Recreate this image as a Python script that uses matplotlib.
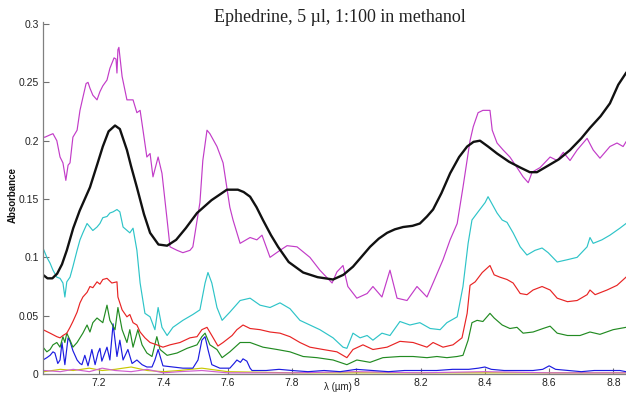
import numpy as np
import matplotlib
matplotlib.use('Agg')
import matplotlib.pyplot as plt

# spectra (wavelength in um, absorbance)
mag_x = [7.026, 7.032, 7.048, 7.057, 7.069, 7.079, 7.088, 7.097, 7.104, 7.110, 7.119, 7.132, 7.141, 7.150, 7.160,
         7.166, 7.172, 7.181, 7.194, 7.203, 7.212, 7.225, 7.234, 7.247, 7.253, 7.256, 7.259, 7.262, 7.272, 7.287,
         7.306, 7.318, 7.328, 7.337, 7.349, 7.359, 7.368, 7.384, 7.396, 7.412, 7.421, 7.443, 7.461, 7.483, 7.492,
         7.514, 7.523, 7.536, 7.545, 7.567, 7.586, 7.607, 7.617, 7.639, 7.670, 7.691, 7.707, 7.732, 7.763, 7.785,
         7.816, 7.856, 7.887, 7.925, 7.940, 7.959, 7.974, 8.002, 8.034, 8.052, 8.080, 8.105, 8.127, 8.158, 8.189,
         8.220, 8.239, 8.270, 8.292, 8.314, 8.332, 8.354, 8.364, 8.379, 8.394, 8.416, 8.423, 8.438, 8.457, 8.478,
         8.500, 8.519, 8.535, 8.547, 8.572, 8.603, 8.625, 8.644, 8.665, 8.687, 8.718, 8.737, 8.758, 8.789, 8.811,
         8.830, 8.839]
mag_y = [0.203, 0.203, 0.205, 0.206, 0.200, 0.186, 0.181, 0.166, 0.179, 0.181, 0.203, 0.209, 0.226, 0.237, 0.249,
         0.250, 0.245, 0.239, 0.235, 0.242, 0.247, 0.252, 0.262, 0.271, 0.270, 0.258, 0.278, 0.280, 0.255, 0.235,
         0.235, 0.224, 0.226, 0.209, 0.186, 0.189, 0.169, 0.186, 0.172, 0.132, 0.109, 0.106, 0.104, 0.106, 0.109,
         0.147, 0.183, 0.209, 0.206, 0.195, 0.181, 0.143, 0.132, 0.112, 0.117, 0.115, 0.119, 0.100, 0.106, 0.110,
         0.109, 0.100, 0.089, 0.078, 0.0875, 0.093, 0.075, 0.065, 0.069, 0.075, 0.066, 0.089, 0.065, 0.063, 0.075,
         0.066, 0.078, 0.098, 0.115, 0.129, 0.160, 0.200, 0.212, 0.224, 0.226, 0.226, 0.209, 0.198, 0.192, 0.186,
         0.177, 0.169, 0.164, 0.173, 0.177, 0.186, 0.183, 0.190, 0.183, 0.192, 0.202, 0.192, 0.185, 0.195, 0.198,
         0.195, 0.199]

blk_x = [7.026, 7.040, 7.055, 7.070, 7.085, 7.100, 7.120, 7.140, 7.172, 7.195, 7.212, 7.230, 7.250, 7.265, 7.287,
         7.300, 7.318, 7.340, 7.359, 7.385, 7.412, 7.440, 7.470, 7.505, 7.550, 7.598, 7.632, 7.650, 7.670, 7.690,
         7.710, 7.735, 7.757, 7.790, 7.835, 7.880, 7.928, 7.960, 7.990, 8.015, 8.043, 8.070, 8.096, 8.120, 8.146,
         8.175, 8.198, 8.220, 8.239, 8.265, 8.292, 8.320, 8.345, 8.365, 8.385, 8.410, 8.438, 8.475, 8.510, 8.540,
         8.562, 8.593, 8.630, 8.665, 8.700, 8.727, 8.760, 8.789, 8.815, 8.839]
blk_y = [0.085, 0.082, 0.082, 0.086, 0.094, 0.106, 0.125, 0.140, 0.160, 0.180, 0.195, 0.208, 0.213, 0.210, 0.192,
         0.178, 0.160, 0.137, 0.121, 0.111, 0.110, 0.115, 0.125, 0.138, 0.149, 0.158, 0.158, 0.156, 0.152, 0.143,
         0.132, 0.119, 0.109, 0.096, 0.087, 0.083, 0.081, 0.085, 0.092, 0.100, 0.109, 0.116, 0.121, 0.124, 0.126,
         0.127, 0.129, 0.135, 0.141, 0.155, 0.172, 0.186, 0.195, 0.199, 0.200, 0.195, 0.189, 0.182, 0.177, 0.173,
         0.173, 0.178, 0.184, 0.192, 0.202, 0.211, 0.221, 0.232, 0.248, 0.258]

cyan_x = [7.026, 7.038, 7.048, 7.057, 7.069, 7.079, 7.088, 7.094, 7.100, 7.110, 7.119, 7.132, 7.141, 7.150, 7.163,
          7.172, 7.181, 7.194, 7.203, 7.212, 7.225, 7.234, 7.244, 7.256, 7.265, 7.275, 7.296, 7.306, 7.318, 7.328,
          7.343, 7.359, 7.374, 7.384, 7.396, 7.412, 7.430, 7.461, 7.492, 7.514, 7.530, 7.539, 7.551, 7.567, 7.583,
          7.607, 7.639, 7.670, 7.701, 7.732, 7.763, 7.794, 7.825, 7.856, 7.887, 7.928, 7.959, 7.971, 7.990, 8.012,
          8.034, 8.052, 8.080, 8.105, 8.136, 8.167, 8.198, 8.230, 8.261, 8.282, 8.314, 8.332, 8.348, 8.360, 8.379,
          8.401, 8.410, 8.420, 8.438, 8.454, 8.469, 8.488, 8.510, 8.531, 8.556, 8.578, 8.597, 8.625, 8.657, 8.687,
          8.718, 8.727, 8.737, 8.764, 8.789, 8.820, 8.839]
cyan_y = [0.108, 0.100, 0.095, 0.089, 0.083, 0.082, 0.078, 0.066, 0.079, 0.083, 0.092, 0.106, 0.115, 0.121, 0.129,
          0.126, 0.123, 0.126, 0.129, 0.134, 0.135, 0.138, 0.139, 0.141, 0.139, 0.126, 0.121, 0.125, 0.106, 0.078,
          0.052, 0.049, 0.038, 0.057, 0.040, 0.033, 0.040, 0.046, 0.051, 0.055, 0.078, 0.087, 0.078, 0.057, 0.046,
          0.053, 0.063, 0.065, 0.059, 0.057, 0.061, 0.056, 0.046, 0.042, 0.038, 0.031, 0.023, 0.022, 0.035, 0.031,
          0.033, 0.029, 0.035, 0.033, 0.045, 0.042, 0.044, 0.039, 0.038, 0.044, 0.049, 0.075, 0.112, 0.132, 0.139,
          0.147, 0.152, 0.147, 0.138, 0.132, 0.130, 0.121, 0.109, 0.102, 0.106, 0.108, 0.104, 0.096, 0.098, 0.100,
          0.109, 0.117, 0.112, 0.115, 0.119, 0.125, 0.129]

red_x = [7.026, 7.048, 7.069, 7.079, 7.088, 7.100, 7.110, 7.119, 7.132, 7.141, 7.150, 7.163, 7.172, 7.181, 7.194,
         7.203, 7.212, 7.225, 7.240, 7.256, 7.259, 7.272, 7.287, 7.296, 7.306, 7.318, 7.328, 7.343, 7.359, 7.380,
         7.399, 7.421, 7.452, 7.483, 7.505, 7.520, 7.536, 7.551, 7.570, 7.586, 7.614, 7.629, 7.648, 7.670, 7.701,
         7.732, 7.763, 7.794, 7.825, 7.856, 7.897, 7.940, 7.971, 7.990, 8.021, 8.052, 8.096, 8.136, 8.177, 8.220,
         8.239, 8.270, 8.301, 8.329, 8.345, 8.354, 8.370, 8.392, 8.416, 8.429, 8.447, 8.469, 8.488, 8.510, 8.531,
         8.550, 8.578, 8.603, 8.625, 8.657, 8.687, 8.718, 8.727, 8.743, 8.780, 8.811, 8.839]
red_y = [0.038, 0.035, 0.032, 0.031, 0.033, 0.035, 0.040, 0.045, 0.053, 0.061, 0.066, 0.070, 0.075, 0.074, 0.079,
         0.077, 0.081, 0.082, 0.078, 0.079, 0.066, 0.055, 0.049, 0.051, 0.044, 0.042, 0.036, 0.031, 0.027, 0.025,
         0.023, 0.025, 0.027, 0.031, 0.032, 0.038, 0.040, 0.033, 0.024, 0.027, 0.033, 0.038, 0.042, 0.039, 0.038,
         0.036, 0.035, 0.032, 0.027, 0.023, 0.021, 0.019, 0.014, 0.021, 0.025, 0.021, 0.023, 0.028, 0.027, 0.023,
         0.027, 0.023, 0.025, 0.031, 0.052, 0.076, 0.079, 0.087, 0.093, 0.085, 0.083, 0.081, 0.078, 0.069, 0.068,
         0.072, 0.075, 0.072, 0.065, 0.062, 0.063, 0.068, 0.072, 0.068, 0.072, 0.076, 0.083]

grn_x = [7.026, 7.038, 7.048, 7.057, 7.069, 7.079, 7.088, 7.094, 7.100, 7.110, 7.119, 7.132, 7.141, 7.150, 7.163,
         7.172, 7.181, 7.194, 7.203, 7.212, 7.225, 7.234, 7.250, 7.259, 7.272, 7.287, 7.296, 7.306, 7.321, 7.334,
         7.349, 7.365, 7.380, 7.390, 7.412, 7.443, 7.474, 7.505, 7.520, 7.530, 7.545, 7.567, 7.583, 7.607, 7.639,
         7.670, 7.710, 7.754, 7.794, 7.835, 7.878, 7.928, 7.971, 8.002, 8.043, 8.083, 8.136, 8.177, 8.220, 8.251,
         8.282, 8.314, 8.332, 8.348, 8.360, 8.376, 8.394, 8.416, 8.429, 8.454, 8.478, 8.500, 8.519, 8.550, 8.581,
         8.603, 8.625, 8.657, 8.696, 8.727, 8.758, 8.799, 8.839]
grn_y = [0.023, 0.019, 0.021, 0.025, 0.027, 0.023, 0.032, 0.027, 0.035, 0.029, 0.023, 0.027, 0.031, 0.035, 0.042,
         0.036, 0.044, 0.048, 0.046, 0.044, 0.059, 0.046, 0.038, 0.057, 0.038, 0.027, 0.038, 0.023, 0.038, 0.025,
         0.018, 0.015, 0.032, 0.021, 0.016, 0.018, 0.022, 0.025, 0.032, 0.035, 0.025, 0.021, 0.014, 0.019, 0.027,
         0.027, 0.023, 0.021, 0.019, 0.015, 0.014, 0.012, 0.008, 0.012, 0.010, 0.014, 0.015, 0.015, 0.014, 0.015,
         0.014, 0.015, 0.016, 0.029, 0.044, 0.046, 0.045, 0.052, 0.048, 0.042, 0.039, 0.040, 0.035, 0.036, 0.039,
         0.041, 0.035, 0.033, 0.033, 0.036, 0.034, 0.038, 0.040]

blu_x = [7.026, 7.038, 7.048, 7.057, 7.063, 7.072, 7.079, 7.085, 7.094, 7.104, 7.110, 7.119, 7.132, 7.141, 7.147,
         7.156, 7.166, 7.178, 7.188, 7.197, 7.203, 7.209, 7.225, 7.234, 7.244, 7.256, 7.265, 7.275, 7.290, 7.303,
         7.318, 7.334, 7.349, 7.365, 7.374, 7.384, 7.399, 7.430, 7.461, 7.492, 7.508, 7.520, 7.530, 7.539, 7.551,
         7.576, 7.607, 7.620, 7.629, 7.640, 7.648, 7.660, 7.670, 7.676, 7.720, 7.760, 7.800, 7.850, 7.900, 7.950,
         8.000, 8.050, 8.100, 8.150, 8.200, 8.250, 8.300, 8.350, 8.380, 8.400, 8.420, 8.460, 8.500, 8.550, 8.580,
         8.600, 8.620, 8.660, 8.700, 8.740, 8.780, 8.820, 8.839]
blu_y = [0.012, 0.014, 0.016, 0.019, 0.018, 0.009, 0.012, 0.027, 0.008, 0.031, 0.028, 0.020, 0.012, 0.009, 0.008,
         0.016, 0.007, 0.021, 0.008, 0.018, 0.022, 0.011, 0.023, 0.012, 0.043, 0.015, 0.029, 0.012, 0.021, 0.009,
         0.012, 0.008, 0.006, 0.006, 0.012, 0.021, 0.007, 0.006, 0.005, 0.005, 0.012, 0.029, 0.032, 0.021, 0.008,
         0.005, 0.005, 0.009, 0.012, 0.010, 0.013, 0.011, 0.005, 0.003, 0.003, 0.004, 0.003, 0.002, 0.003, 0.002,
         0.004, 0.003, 0.002, 0.003, 0.003, 0.003, 0.004, 0.004, 0.005, 0.006, 0.004, 0.003, 0.003, 0.003, 0.004,
         0.007, 0.004, 0.003, 0.002, 0.003, 0.003, 0.003, 0.002]

# faint traces hugging the baseline
low_x = [7.03, 7.08, 7.12, 7.17, 7.21, 7.25, 7.30, 7.35, 7.40, 7.45, 7.52, 7.60, 7.80, 8.00, 8.20, 8.40, 8.60, 8.84]
yel_y = [0.002, 0.004, 0.003, 0.005, 0.003, 0.004, 0.006, 0.003, 0.002, 0.003, 0.005, 0.002, 0.001, 0.001, 0.001, 0.001, 0.001, 0.001]
pnk_y = [0.003, 0.002, 0.004, 0.002, 0.005, 0.003, 0.002, 0.004, 0.001, 0.002, 0.003, 0.001, 0.001, 0.002, 0.001, 0.002, 0.001, 0.001]

xticks = [7.2, 7.4, 7.6, 7.8, 8.0, 8.2, 8.4, 8.6, 8.8]
xticklabels = ['7.2', '7.4', '7.6', '7.8', '8', '8.2', '8.4', '8.6', '8.8']
yticks = [0, 0.05, 0.1, 0.15, 0.2, 0.25, 0.3]
yticklabels = ['0', '0.05', '0.1', '0.15', '0.2', '0.25', '0.3']

plt.rcParams['font.family'] = ['Liberation Sans', 'DejaVu Sans']

fig = plt.figure(figsize=(6.26, 3.94), dpi=100)
ax = fig.add_axes([43 / 626, 20 / 394, 583 / 626, 352.3 / 394])

lw = 0.85
ax.plot(low_x, yel_y, color='#c8c800', lw=lw)
ax.plot(low_x, pnk_y, color='#d060d0', lw=lw)
ax.plot(blu_x, blu_y, color='#1c1ce0', lw=lw)
ax.plot(grn_x, grn_y, color='#228b22', lw=lw)
ax.plot(red_x, red_y, color='#e82424', lw=lw)
ax.plot(cyan_x, cyan_y, color='#2ec4c8', lw=lw)
ax.plot(mag_x, mag_y, color='#c23cc8', lw=lw)
ax.plot(blk_x, blk_y, color='#111111', lw=1.7)

ax.set_xlim(7.026, 8.839)
ax.set_ylim(0, 0.302)
ax.set_xticks(xticks)
ax.set_xticklabels(xticklabels)
ax.set_yticks(yticks)
ax.set_yticklabels(yticklabels)
ax.tick_params(direction='in', length=4, width=0.8, color='#707070', labelsize=7.5, labelcolor='#222222', pad=3)
for s in ['top', 'right']:
    ax.spines[s].set_visible(False)
for s in ['left', 'bottom']:
    ax.spines[s].set_color('#808080')
    ax.spines[s].set_linewidth(0.9)

fig.text(340 / 626, 1 - 18 / 394, 'Ephedrine, 5 \u00b5l, 1:100 in methanol', family='Liberation Serif',
         fontsize=13, ha='center', va='center', color='#222222')
fig.text(13 / 626, 1 - 195 / 394, 'Absorbance', rotation=90, fontsize=7, fontweight='bold',
         ha='center', va='center', color='#111111')
fig.text(338 / 626, 1.5 / 394, '\u03bb (\u00b5m)', fontsize=7, ha='center', va='bottom', color='#222222')

fig.savefig('out.png', dpi=100)
